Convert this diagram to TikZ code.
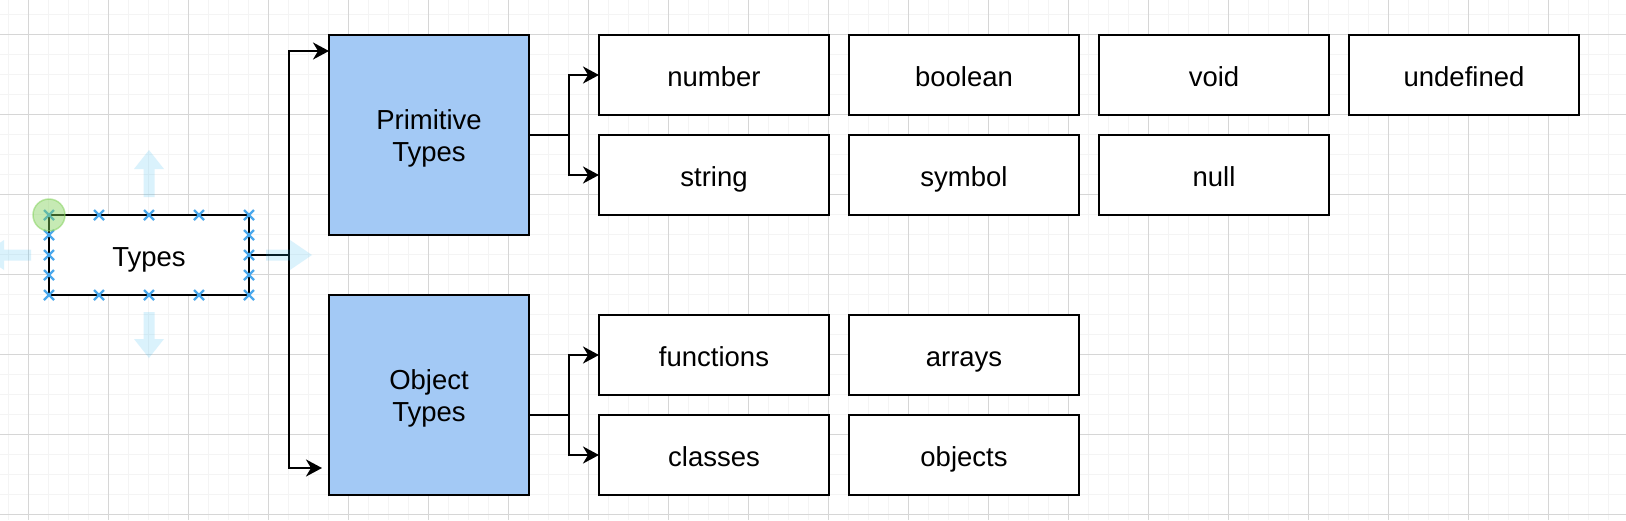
\documentclass[tikz,border=0pt]{standalone}
\usepackage{fontspec}
\setmainfont{Liberation Sans}
\usetikzlibrary{arrows.meta,calc}
\definecolor{boxblue}{RGB}{163,201,245}
\definecolor{gridminor}{RGB}{244,244,244}
\definecolor{gridmajor}{RGB}{214,214,214}
\definecolor{hoverblue}{RGB}{41,182,242}
\definecolor{handleblue}{RGB}{74,168,236}
\definecolor{selgreen}{RGB}{130,210,90}
\begin{document}
\begin{tikzpicture}[x=1pt,y=-1pt,
  box/.style={draw=black, line width=2.4pt, fill=white, minimum width=230pt,
    minimum height=80pt, inner sep=0pt, outer sep=0pt, align=center,
    text height=22pt, text depth=0pt,
    font=\fontsize{27.5}{32}\selectfont},
  typebox/.style={box, minimum width=200pt},
  catbox/.style={box, fill=boxblue, minimum width=200pt, minimum height=200pt,
    text height=53pt, text depth=0pt},
  conn/.style={draw=black, line width=2.2pt,
    -{Stealth[length=16pt,width=17pt,inset=5pt]}},
  minorline/.style={draw=gridminor, line width=1.8pt},
  majorline/.style={draw=gridmajor, line width=1.1pt},
  hover/.style={fill=hoverblue, fill opacity=0.17},
  handle/.style={draw=handleblue, line width=2.2pt},
]
\useasboundingbox (0,0) rectangle (1626,520);
\fill[white] (0,0) rectangle (1626,520);
% grid
\foreach \gx in {0,...,81} {\draw[minorline] (8.5+20*\gx,0) -- (8.5+20*\gx,520);}
\foreach \gy in {0,...,25} {\draw[minorline] (0,14.5+20*\gy) -- (1626,14.5+20*\gy);}
\foreach \gx in {0,...,20} {\draw[majorline] (28.5+80*\gx,0) -- (28.5+80*\gx,520);}
\foreach \gy in {0,...,6} {\draw[majorline] (0,34.5+80*\gy) -- (1626,34.5+80*\gy);}

% nodes
\node[typebox] (types) at (149,255) {Types};
\node[catbox] (prim) at (429,135) {Primitive\\Types};
\node[catbox] (obj) at (429,395) {Object\\Types};
\node[box] (number) at (714,75) {number};
\node[box] (boolean) at (964,75) {boolean};
\node[box] (void) at (1214,75) {void};
\node[box] (undef) at (1464,75) {undefined};
\node[box] (string) at (714,175) {string};
\node[box] (symbol) at (964,175) {symbol};
\node[box] (null) at (1214,175) {null};
\node[box] (functions) at (714,355) {functions};
\node[box] (arrays) at (964,355) {arrays};
\node[box] (classes) at (714,455) {classes};
\node[box] (objects) at (964,455) {objects};

\coordinate (trunk) at (289,0);
\coordinate (ptrunk) at (569,0);

% connectors
\draw[conn] (types.east) -- (types.east -| trunk) |- ($(prim.north west)+(0,16)$);
\draw[conn, shorten >=7pt] (types.east) -- (types.east -| trunk) |- ($(obj.south west)+(0,-27)$);
\draw[conn] (prim.east) -- (prim.east -| ptrunk) |- (number.west);
\draw[conn] (prim.east) -- (prim.east -| ptrunk) |- (string.west);
\coordinate (objout) at ($(obj.east)+(0,20)$);
\draw[conn] (objout) -- (objout -| ptrunk) |- (functions.west);
\draw[conn] (objout) -- (objout -| ptrunk) |- (classes.west);

% hover arrows around the selected shape
\begin{scope}
\clip (0,0) rectangle (1626,520);
\fill[hover] (149,150) -- (164,169) -- (154.5,169) -- (154.5,197) -- (143.5,197) -- (143.5,169) -- (134,169) -- cycle;
\fill[hover] (149,358) -- (164,339) -- (154.5,339) -- (154.5,312) -- (143.5,312) -- (143.5,339) -- (134,339) -- cycle;
\fill[hover] (312,255) -- (290,240) -- (290,249.5) -- (266,249.5) -- (266,260.5) -- (290,260.5) -- (290,270) -- cycle;
\fill[hover] (-18,255) -- (4,240) -- (4,249.5) -- (31,249.5) -- (31,260.5) -- (4,260.5) -- (4,270) -- cycle;
\end{scope}

% selection handles
\foreach \hx/\hy in {49/215,99/215,149/215,199/215,249/215,
                     49/295,99/295,149/295,199/295,249/295,
                     49/235,49/255,49/275,249/235,249/255,249/275} {
  \draw[handle] (\hx-5,\hy-5) -- (\hx+5,\hy+5) (\hx-5,\hy+5) -- (\hx+5,\hy-5);
}
\filldraw[fill=selgreen, fill opacity=0.45, draw=selgreen, draw opacity=0.5, line width=1.5pt] (types.north west) circle[radius=16pt];
\end{tikzpicture}
\end{document}
